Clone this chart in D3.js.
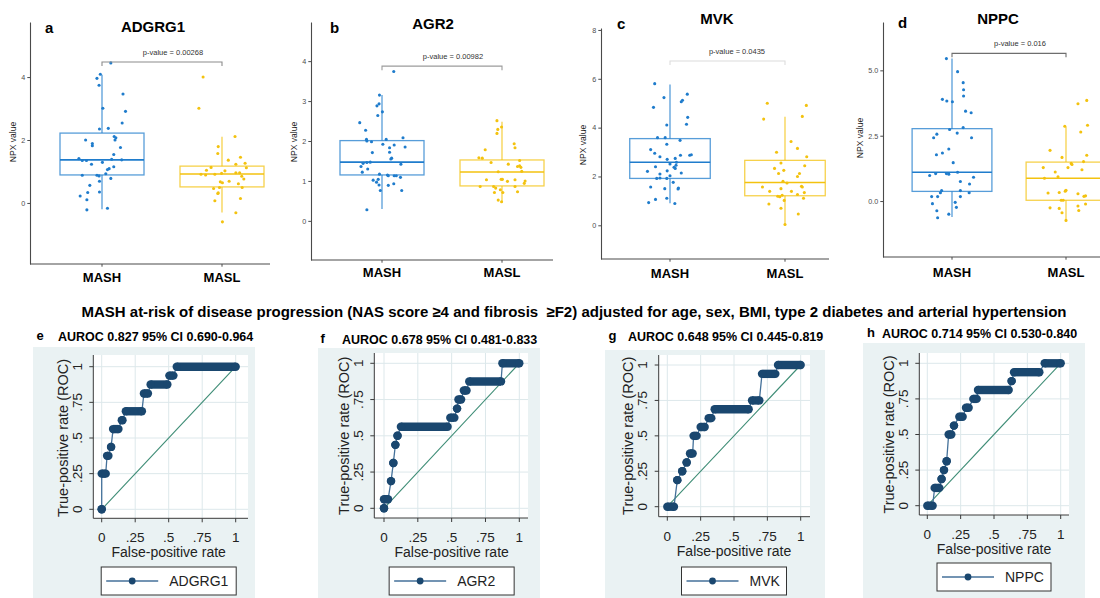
<!DOCTYPE html>
<html><head><meta charset="utf-8">
<script src="https://cdn.jsdelivr.net/npm/d3@7"></script>
<style>
body{margin:0;background:#fff;}
svg{display:block;font-family:"Liberation Sans",Arial,Helvetica,sans-serif;}
</style></head><body>
<svg id="fig" width="1100" height="598"></svg>
<script>
// ---------- data ----------
const groups = ["MASH", "MASL"];
const genes = ["ADGRG1", "AGR2", "MVK", "NPPC"];
const boxLetters = ["a", "b", "c", "d"];
const rocLetters = ["e", "f", "g", "h"];
const pValues = ["0.00268", "0.00982", "0.0435", "0.016"];
const yTicksNpx = [[0, 2, 4], [0, 1, 2, 3, 4], [0, 2, 4, 6, 8], [0, 2.5, 5]];
const bracketLevels = [4.48, 3.875, 6.73, 5.65];

// box statistics: [lower whisker, Q1, median, Q3, upper whisker]
const adgrg1BoxMash = [-0.2, 0.89, 1.37, 2.22, 4.07];
const adgrg1BoxMasl = [-0.3, 0.51, 0.92, 1.17, 2.1];
const agr2BoxMash = [0.3, 1.15, 1.47, 2.01, 3.15];
const agr2BoxMasl = [0.48, 0.875, 1.225, 1.525, 2.48];
const mvkBoxMash = [0.9, 1.92, 2.58, 3.55, 5.77];
const mvkBoxMasl = [0.0, 1.21, 1.75, 2.66, 4.45];
const nppcBoxMash = [-0.61, 0.37, 1.1, 2.77, 5.45];
const nppcBoxMasl = [-0.74, 0.03, 0.87, 1.49, 2.83];

// individual samples: [horizontal jitter (fraction of half box), NPX value]
const adgrg1Mash = [[0.21,4.45],[-0.04,4.09],[-0.12,3.96],[-0.07,3.74],[0.02,3.01],[0.5,3.46],[0.56,2.91],[0.48,2.54],[-0.06,2.35],[0.15,2.37],[-0.39,2.0],[-0.23,1.89],[-0.23,1.82],[0.29,2.11],[0.33,2.07],[0.31,2.0],[0.44,1.76],[0.28,1.54],[-0.55,1.41],[-0.47,1.35],[-0.37,1.35],[0.23,1.39],[0.47,1.37],[0.01,1.29],[-0.25,1.23],[0.17,1.09],[0.28,1.15],[0.13,1.06],[-0.47,0.88],[-0.12,0.88],[-0.07,0.86],[0.09,0.93],[0.21,0.78],[-0.06,0.69],[-0.29,0.56],[-0.34,0.33],[-0.06,0.35],[-0.52,0.22],[-0.36,0.10],[-0.36,-0.22],[0.13,-0.17]];
const adgrg1Masl = [[-0.45,4.0],[-0.55,3.01],[0.31,2.11],[-0.09,1.79],[-0.1,1.57],[0.44,1.45],[0.15,1.36],[0.55,1.26],[0.33,1.23],[0.58,1.12],[-0.26,1.13],[-0.37,1.04],[0.07,1.02],[-0.01,0.94],[-0.17,0.91],[-0.5,0.91],[-0.39,0.89],[0.33,0.96],[0.42,0.96],[0.47,0.85],[0.52,0.76],[-0.04,0.67],[0.01,0.64],[0.17,0.69],[0.39,0.61],[0.48,0.49],[-0.2,0.46],[-0.06,0.49],[-0.09,0.32],[-0.1,0.30],[-0.17,0.07],[0.44,0.14],[0.33,-0.31],[0.01,-0.6]];
const agr2Mash = [[0.28,3.74],[-0.06,3.15],[-0.07,2.93],[-0.12,2.88],[0.01,2.73],[-0.1,2.64],[-0.53,2.46],[-0.39,2.27],[-0.37,2.04],[-0.36,2.0],[0.1,2.04],[0.5,2.08],[-0.25,1.98],[0.02,1.92],[0.29,1.9],[0.18,1.83],[0.55,1.85],[0.18,1.72],[-0.23,1.71],[0.23,1.57],[0.21,1.55],[-0.36,1.46],[-0.28,1.47],[-0.45,1.44],[0.45,1.42],[-0.5,1.36],[-0.34,1.3],[-0.47,1.22],[-0.06,1.17],[0.13,1.15],[0.15,1.13],[0.29,1.13],[0.34,1.13],[0.44,1.09],[-0.21,1.02],[-0.09,1.04],[-0.13,0.97],[-0.07,0.9],[0.15,0.89],[0.28,0.93],[-0.04,0.76],[0.47,0.76],[-0.36,0.28]];
const agr2Masl = [[-0.12,2.51],[-0.01,2.35],[-0.1,2.29],[-0.12,2.19],[0.29,1.93],[0.31,1.83],[-0.4,1.78],[-0.55,1.58],[-0.47,1.57],[-0.26,1.46],[0.15,1.42],[0.42,1.51],[0.42,1.38],[0.45,1.34],[0.37,1.36],[0.47,1.24],[-0.09,1.23],[-0.37,1.03],[-0.02,1.04],[0.01,1.04],[0.13,0.99],[0.31,1.03],[0.55,1.0],[0.53,0.94],[-0.52,0.86],[-0.2,0.86],[-0.15,0.82],[0.31,0.86],[-0.04,0.78],[-0.18,0.71],[0.02,0.71],[0.37,0.73],[-0.09,0.52],[-0.01,0.48]];
const mvkMash = [[-0.38,5.8],[-0.15,5.23],[-0.41,4.83],[0.31,5.12],[0.28,5.06],[0.43,5.37],[-0.08,4.11],[0.44,4.42],[0.41,4.14],[-0.31,3.59],[-0.12,3.59],[0.25,3.48],[-0.08,3.32],[-0.48,3.1],[-0.38,2.95],[-0.25,2.81],[0.26,2.87],[0.49,2.87],[0.53,2.89],[-0.07,2.7],[0.13,2.74],[0.16,2.58],[0.0,2.51],[0.15,2.46],[-0.36,2.4],[0.1,2.38],[0.13,2.33],[-0.56,2.21],[-0.07,2.23],[-0.25,2.1],[0.0,2.03],[0.28,2.14],[-0.33,1.92],[-0.25,1.94],[-0.08,1.92],[0.08,1.76],[-0.48,1.57],[-0.13,1.5],[0.2,1.49],[0.21,1.53],[-0.36,1.06],[-0.08,1.11],[-0.53,0.93],[0.12,0.89]];
const mvkMasl = [[-0.44,5.0],[0.53,4.91],[-0.53,4.35],[0.43,4.46],[0.15,3.43],[0.31,3.15],[-0.21,2.99],[0.54,2.81],[0.49,2.44],[-0.1,2.55],[-0.03,2.25],[-0.26,2.33],[-0.16,2.12],[0.36,2.12],[0.31,2.0],[-0.05,1.8],[0.05,1.73],[-0.56,1.57],[0.41,1.6],[0.43,1.57],[-0.38,1.39],[-0.1,1.5],[0.16,1.39],[0.48,1.34],[0.31,1.26],[-0.18,1.19],[-0.13,1.17],[-0.07,1.23],[0.46,1.11],[-0.02,1.02],[-0.4,0.87],[-0.1,0.7],[0.33,0.46],[0.0,0.03]];
const nppcMash = [[-0.14,5.45],[0.14,4.95],[0.28,4.53],[0.29,4.26],[0.29,4.02],[-0.24,3.89],[-0.13,3.83],[0.01,3.8],[0.34,3.44],[0.48,3.38],[0.28,2.81],[-0.06,2.74],[-0.38,2.56],[0.13,2.6],[-0.46,2.42],[0.49,2.42],[-0.08,1.99],[-0.24,1.84],[-0.39,1.77],[0.03,1.47],[-0.56,0.98],[-0.41,1.05],[-0.14,1.05],[-0.08,1.03],[0.14,1.1],[0.54,0.91],[0.21,0.75],[0.44,0.65],[-0.26,0.4],[-0.29,0.32],[0.21,0.4],[0.43,0.32],[-0.51,0.17],[-0.36,0.17],[0.21,0.17],[-0.49,-0.1],[0.08,-0.05],[0.11,-0.24],[-0.38,-0.37],[-0.08,-0.5],[-0.36,-0.64]];
const nppcMasl = [[0.52,3.85],[0.3,3.72],[0.54,2.9],[-0.03,2.86],[0.37,2.64],[-0.4,1.94],[-0.1,1.67],[0.52,1.75],[0.44,1.51],[0.13,1.44],[0.15,1.4],[-0.57,1.28],[0.05,1.28],[-0.27,1.11],[0.4,1.2],[-0.2,0.93],[-0.54,0.87],[-0.45,0.31],[-0.17,0.33],[-0.02,0.38],[0.0,0.41],[0.3,0.28],[0.45,0.18],[0.49,0.2],[-0.12,0.03],[-0.07,0.03],[-0.4,-0.26],[-0.17,-0.28],[-0.1,-0.45],[0.3,-0.19],[0.32,-0.36],[0.49,-0.11],[0.0,-0.74]];

// ROC curves: [true-positive rate, false-positive rate from, false-positive rate to]
const rocAdgrg1 = [[0,0,0],[0.25,0,0.03],[0.375,0.04,0.05],[0.4375,0.07,0.07],[0.5625,0.085,0.125],[0.625,0.15,0.155],[0.6875,0.18,0.3],[0.8125,0.315,0.345],[0.875,0.365,0.49],[0.9375,0.505,0.535],[1,0.56,1]];
const rocAgr2 = [[0,0,0],[0.0625,0,0.03],[0.1875,0.052,0.052],[0.3125,0.069,0.069],[0.4375,0.084,0.084],[0.5,0.1,0.1],[0.5625,0.125,0.47],[0.625,0.49,0.52],[0.6875,0.54,0.54],[0.75,0.55,0.57],[0.8125,0.59,0.61],[0.875,0.63,0.865],[1,0.875,1]];
const rocMvk = [[0,0,0.05],[0.1875,0.075,0.075],[0.25,0.112,0.112],[0.3125,0.145,0.145],[0.375,0.17,0.19],[0.5,0.197,0.22],[0.5625,0.25,0.28],[0.625,0.31,0.33],[0.6875,0.355,0.61],[0.75,0.635,0.69],[0.9375,0.71,0.81],[1,0.83,1]];
const rocNppc = [[0,0,0.04],[0.125,0.055,0.09],[0.1875,0.107,0.107],[0.25,0.125,0.125],[0.3125,0.145,0.145],[0.5,0.16,0.18],[0.5625,0.2,0.2],[0.625,0.24,0.265],[0.6875,0.29,0.31],[0.75,0.345,0.37],[0.8125,0.38,0.61],[0.875,0.632,0.632],[0.9375,0.65,0.84],[1,0.88,1]];
const aurocLabels = ["AUROC 0.827 95% CI 0.690-0.964", "AUROC 0.678 95% CI 0.481-0.833",
                     "AUROC 0.648 95% CI 0.445-0.819", "AUROC 0.714 95% CI 0.530-0.840"];
const rocTicks = [0, 0.25, 0.5, 0.75, 1];
const rocTickLabels = ["0", ".25", ".5", ".75", "1"];
const rocTitle = "MASH at-risk of disease progression (NAS score \u22654 and fibrosis  \u2265F2) adjusted for age, sex, BMI, type 2 diabetes and arterial hypertension";

const boxSeries = [
  {mash: adgrg1Mash, masl: adgrg1Masl, boxMash: adgrg1BoxMash, boxMasl: adgrg1BoxMasl},
  {mash: agr2Mash, masl: agr2Masl, boxMash: agr2BoxMash, boxMasl: agr2BoxMasl},
  {mash: mvkMash, masl: mvkMasl, boxMash: mvkBoxMash, boxMasl: mvkBoxMasl},
  {mash: nppcMash, masl: nppcMasl, boxMash: nppcBoxMash, boxMasl: nppcBoxMasl}
];
const rocSeries = [rocAdgrg1, rocAgr2, rocMvk, rocNppc];

// ---------- layout ----------
const boxLayout = [
  {axisX: 30, right: 270, top: 22, bottom: 264, c1: 102, c2: 222, domain: [-1.94, 5.75], fmt: d3.format("d"),
   titleX: 153, titleY: 32, letterX: 45, letterY: 33, pX: 173, pY: 54.5, bracketColor: "#8c8c8c", npxX: 13, npxY: 142, catY: 281.5},
  {axisX: 311, right: 553, top: 22, bottom: 260, c1: 382, c2: 502, domain: [-0.98, 4.98], fmt: d3.format("d"),
   titleX: 433, titleY: 29, letterX: 330, letterY: 33, pX: 453, pY: 58.5, bracketColor: "#9c9c9c", npxX: 294, npxY: 142, catY: 276.5},
  {axisX: 601, right: 829, top: 28, bottom: 259, c1: 670, c2: 785, domain: [-1.38, 8.08], fmt: d3.format("d"),
   titleX: 717, titleY: 24, letterX: 617, letterY: 29, pX: 737, pY: 53.5, bracketColor: "#dcdcdc", npxX: 583, npxY: 145, catY: 277.5},
  {axisX: 883, right: 1100, top: 22, bottom: 257, c1: 952, c2: 1066, domain: [-2.14, 6.85], fmt: d3.format(".1f"),
   titleX: 998, titleY: 24, letterX: 898, letterY: 28, pX: 1020, pY: 45.5, bracketColor: "#6e6e6e", npxX: 860, npxY: 138, catY: 276.5}
];
const rocLayout = [
  {bgX: 33, bgY: 347, bgR: 255, axisX: 93.3, x0: 101.7, x1: 235.7, y0: 509.3, y1: 366.7, axisY: 518.3, plotTop: 355, plotRight: 248,
   letterX: 36.5, headY: 341.2, aurocX: 58, legW: 135, legY: 567},
  {bgX: 318, bgY: 348, bgR: 540, axisX: 374.3, x0: 384, x1: 519.3, y0: 508.3, y1: 363.3, axisY: 518, plotTop: 353, plotRight: 528,
   letterX: 320.5, headY: 343.8, aurocX: 342, legW: 125, legY: 567},
  {bgX: 605, bgY: 350, bgR: 825, axisX: 658.7, x0: 667.3, x1: 800.7, y0: 506.7, y1: 365, axisY: 516.7, plotTop: 355, plotRight: 810,
   letterX: 608.5, headY: 341.2, aurocX: 628, legW: 105, legY: 567},
  {bgX: 863, bgY: 343, bgR: 1085, axisX: 919.3, x0: 927.3, x1: 1060.7, y0: 505.7, y1: 363.3, axisY: 515, plotTop: 353, plotRight: 1069,
   letterX: 867, headY: 337.8, aurocX: 882, legW: 114, legY: 563}
];

const colMash = "#1f7ccc", colMasl = "#f3c20f";
const rocNavy = "#1a476f", rocLine = "#44719a", refLine = "#3d8c75";

const svg = d3.select("#fig");

// ---------- box plots ----------
boxLayout.forEach((L, i) => {
  const S = boxSeries[i];
  const g = svg.append("g");
  const y = d3.scaleLinear().domain(L.domain).range([L.bottom, L.top]);
  const x = d3.scalePoint().domain(groups).range([L.c1, L.c2]);
  const bw = 0.7 * (L.c2 - L.c1);

  // y axis
  const ya = g.append("g").attr("transform", `translate(${L.axisX},0)`)
    .call(d3.axisLeft(y).tickValues(yTicksNpx[i]).tickFormat(L.fmt).tickSize(2.7).tickSizeOuter(0).tickPadding(2));
  ya.select(".domain").attr("stroke", "#4a4a4a").attr("stroke-width", 1.1);
  ya.selectAll(".tick line").attr("stroke", "#4a4a4a").attr("stroke-width", 1);
  ya.selectAll(".tick text").attr("fill", "#4d4d4d").style("font-size", "7.2px").style("font-family", null);
  // x axis
  g.append("line").attr("x1", L.axisX).attr("x2", L.right).attr("y1", L.bottom).attr("y2", L.bottom)
    .attr("stroke", "#4a4a4a").attr("stroke-width", 1.1);
  groups.forEach(c => {
    g.append("line").attr("x1", x(c)).attr("x2", x(c)).attr("y1", L.bottom).attr("y2", L.bottom + 2.7)
      .attr("stroke", "#4a4a4a");
    g.append("text").attr("x", x(c)).attr("y", L.catY).attr("text-anchor", "middle")
      .style("font-size", "13px").style("font-weight", "bold").text(c);
  });

  // axis title
  g.append("text").attr("transform", `translate(${L.npxX},${L.npxY}) rotate(-90)`)
    .attr("text-anchor", "middle").attr("dominant-baseline", "central")
    .style("font-size", "8.6px").attr("fill", "#222").text("NPX value");

  // titles
  g.append("text").attr("x", L.titleX).attr("y", L.titleY).attr("text-anchor", "middle")
    .style("font-size", "15px").style("font-weight", "bold").text(genes[i]);
  g.append("text").attr("x", L.letterX).attr("y", L.letterY)
    .style("font-size", "15px").style("font-weight", "bold").text(boxLetters[i]);

  // boxes, whiskers, medians
  [[groups[0], S.boxMash, colMash], [groups[1], S.boxMasl, colMasl]].forEach(([grp, b, col]) => {
    const cx = x(grp);
    const bg = g.append("g").attr("stroke", col).attr("stroke-width", 1.3).attr("fill", "none");
    bg.append("line").attr("x1", cx).attr("x2", cx).attr("y1", y(b[3])).attr("y2", y(b[4])).attr("stroke-opacity", 0.75);
    bg.append("line").attr("x1", cx).attr("x2", cx).attr("y1", y(b[1])).attr("y2", y(b[0])).attr("stroke-opacity", 0.75);
    bg.append("rect").attr("x", cx - bw / 2).attr("y", y(b[3])).attr("width", bw).attr("height", y(b[1]) - y(b[3]))
      .attr("stroke-opacity", 0.75);
    bg.append("line").attr("x1", cx - bw / 2).attr("x2", cx + bw / 2).attr("y1", y(b[2])).attr("y2", y(b[2]))
      .attr("stroke-width", 1.6);
  });

  // jittered samples
  [[groups[0], S.mash, colMash], [groups[1], S.masl, colMasl]].forEach(([grp, pts, col]) => {
    g.append("g").selectAll("circle").data(pts).join("circle")
      .attr("cx", d => x(grp) + d[0] * bw / 2).attr("cy", d => y(d[1]))
      .attr("r", 1.55).attr("fill", col);
  });

  // significance bracket
  const by = y(bracketLevels[i]);
  g.append("path").attr("d", `M${x(groups[0])},${by + 4}V${by}H${x(groups[1])}V${by + 4}`)
    .attr("fill", "none").attr("stroke", L.bracketColor).attr("stroke-width", 1.1);
  g.append("text").attr("x", L.pX).attr("y", L.pY).attr("text-anchor", "middle")
    .style("font-size", "7.5px").attr("fill", "#333").text("p-value = " + pValues[i]);
});

// ---------- ROC section title ----------
const mainT = svg.append("text").attr("x", 574).attr("y", 317).attr("text-anchor", "middle")
  .style("white-space", "pre").attr("xml:space", "preserve")
  .style("font-size", "14px").style("font-weight", "bold").text(rocTitle);
const tw = mainT.node().getComputedTextLength();
mainT.style("font-size", (14 * 986 / tw).toFixed(2) + "px");

// ---------- ROC curves ----------
rocLayout.forEach((L, i) => {
  const runs = rocSeries[i];
  const g = svg.append("g");
  const x = d3.scaleLinear().domain([0, 1]).range([L.x0, L.x1]);
  const y = d3.scaleLinear().domain([0, 1]).range([L.y0, L.y1]);

  g.append("rect").attr("x", L.bgX).attr("y", L.bgY).attr("width", L.bgR - L.bgX).attr("height", 598 - L.bgY)
    .attr("fill", "#eaf2f3");
  g.append("rect").attr("x", L.axisX).attr("y", L.plotTop).attr("width", L.plotRight - L.axisX)
    .attr("height", L.axisY - L.plotTop).attr("fill", "#ffffff");

  // grid
  const grid = g.append("g").attr("stroke", "#dde8eb").attr("stroke-width", 1);
  rocTicks.forEach(t => {
    grid.append("line").attr("x1", L.axisX).attr("x2", L.plotRight).attr("y1", y(t)).attr("y2", y(t));
    grid.append("line").attr("x1", x(t)).attr("x2", x(t)).attr("y1", L.plotTop).attr("y2", L.axisY);
  });

  // axes
  const ax = g.append("g").attr("stroke", "#3a3a3a").attr("stroke-width", 1);
  ax.append("line").attr("x1", L.axisX).attr("x2", L.axisX).attr("y1", L.plotTop).attr("y2", L.axisY);
  ax.append("line").attr("x1", L.axisX).attr("x2", L.plotRight).attr("y1", L.axisY).attr("y2", L.axisY);
  rocTicks.forEach((t, k) => {
    ax.append("line").attr("x1", L.axisX - 4).attr("x2", L.axisX).attr("y1", y(t)).attr("y2", y(t));
    ax.append("line").attr("x1", x(t)).attr("x2", x(t)).attr("y1", L.axisY).attr("y2", L.axisY + 4);
    g.append("text").attr("transform", `translate(${L.axisX - 16},${y(t)}) rotate(-90)`)
      .attr("text-anchor", "middle").attr("dominant-baseline", "central")
      .style("font-size", "13.5px").attr("fill", "#222").text(rocTickLabels[k]);
    g.append("text").attr("x", x(t)).attr("y", L.axisY + 24).attr("text-anchor", "middle")
      .style("font-size", "13.5px").attr("fill", "#222").text(rocTickLabels[k]);
  });
  g.append("text").attr("transform", `translate(${L.axisX - 30.5},${(L.y0 + L.y1) / 2}) rotate(-90)`)
    .attr("text-anchor", "middle").attr("dominant-baseline", "central")
    .style("font-size", "14.5px").attr("fill", "#222").text("True-positive rate (ROC)");
  g.append("text").attr("x", (L.x0 + L.x1) / 2).attr("y", L.axisY + 39).attr("text-anchor", "middle")
    .style("font-size", "14px").attr("fill", "#222").text("False-positive rate");

  // reference diagonal
  g.append("line").attr("x1", x(0)).attr("y1", y(0)).attr("x2", x(1)).attr("y2", y(1))
    .attr("stroke", refLine).attr("stroke-width", 1.1);

  // connecting line through the ROC points
  const pts = [];
  runs.forEach(r => { pts.push([r[1], r[0]]); if (r[2] !== r[1]) pts.push([r[2], r[0]]); });
  g.append("path").attr("d", d3.line().x(d => x(d[0])).y(d => y(d[1]))(pts))
    .attr("fill", "none").attr("stroke", rocLine).attr("stroke-width", 1.3);

  // markers (dense runs of points at one sensitivity level)
  const R = 4.2;
  const mk = g.append("g").attr("fill", rocNavy);
  runs.forEach(r => {
    mk.append("line").attr("x1", x(r[1])).attr("x2", x(r[2])).attr("y1", y(r[0])).attr("y2", y(r[0]))
      .attr("stroke", rocNavy).attr("stroke-width", 2 * R);
    mk.append("circle").attr("cx", x(r[1])).attr("cy", y(r[0])).attr("r", R);
    mk.append("circle").attr("cx", x(r[2])).attr("cy", y(r[0])).attr("r", R);
  });

  // header
  g.append("text").attr("x", L.letterX).attr("y", L.headY - 1)
    .style("font-size", "13px").style("font-weight", "bold").text(rocLetters[i]);
  g.append("text").attr("x", L.aurocX).attr("y", L.headY)
    .style("font-size", "12.5px").style("font-weight", "bold").text(aurocLabels[i]);

  // legend
  const lx = (L.x0 + L.x1) / 2 - L.legW / 2, ly = L.legY, lh = 28;
  g.append("rect").attr("x", lx).attr("y", ly).attr("width", L.legW).attr("height", lh)
    .attr("fill", "#fff").attr("stroke", "#333").attr("stroke-width", 1);
  g.append("line").attr("x1", lx + 5).attr("x2", lx + 57).attr("y1", ly + lh / 2).attr("y2", ly + lh / 2)
    .attr("stroke", rocLine).attr("stroke-width", 1.3);
  g.append("circle").attr("cx", lx + 31).attr("cy", ly + lh / 2).attr("r", 3.4).attr("fill", rocNavy);
  g.append("text").attr("x", lx + 68).attr("y", ly + lh / 2 + 5)
    .style("font-size", "14px").attr("fill", "#222").text(genes[i]);
});
</script>
</body></html>
